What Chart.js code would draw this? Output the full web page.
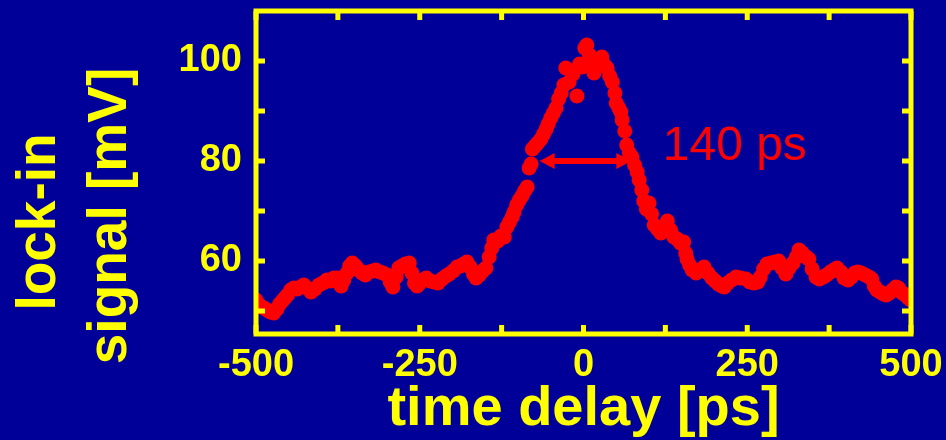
<!DOCTYPE html>
<html>
<head>
<meta charset="utf-8">
<script src="https://cdn.jsdelivr.net/npm/chart.js@4"></script>
<style>
  html, body { margin: 0; padding: 0; background: #000099; }
  #wrap { width: 946px; height: 440px; }
</style>
</head>
<body>
<div id="wrap"><canvas id="chart" width="946" height="440"></canvas></div>
<script>
// time delay [ps]
const delays = [
  -500, -496, -492, -488, -483, -478, -473, -468, -464, -460, -456, -452, -447, -442, -437, -432,
  -427, -422, -416, -410, -404, -398, -392, -386, -381, -376, -370, -366, -361, -357, -353, -348,
  -343, -338, -333, -328, -322, -317, -311, -306, -300, -295, -291, -286, -282, -277, -272, -266,
  -262, -258, -254, -250, -245, -240, -234, -228, -222, -216, -210, -205, -199, -193, -188, -183,
  -178, -173, -168, -164, -159, -154, -149, -144, -140, -137, -131, -126, -121, -117, -113, -109,
  -106, -102, -98, -94, -90, -86, -83, -80, -78, -74, -70, -65, -61, -57, -54, -50,
  -46, -42, -38, -34, -30, -27, -22, -16, -10, -6, -2, 2, 5, 9, 13, 16,
  20, 24, 28, 32, 36, 40, 44, 48, 50, 54, 57, 59, 63, 66, 70, 74,
  78, 82, 85, 89, 92, 96, 100, 104, 108, 113, 118, 123, 128, 133, 138, 143,
  148, 153, 156, 158, 162, 166, 172, 178, 184, 190, 196, 201, 206, 211, 215, 220,
  226, 233, 240, 248, 254, 260, 266, 270, 275, 280, 286, 292, 298, 303, 309, 314,
  320, 325, 329, 334, 340, 344, 349, 355, 360, 366, 371, 377, 382, 387, 393, 398,
  404, 409, 414, 419, 424, 430, 436, 440, 444, 448, 453, 458, 462, 467, 472, 477,
  481, 485, 489, 492, 496, 500
];
// lock-in signal [mV]
const signal = [
  52.2, 51.4, 50.8, 50.6, 50.2, 49.8, 49.6, 50.4, 51.4, 52.0, 52.6, 53.2, 54.2, 54.6, 54.4, 54.8,
  55.2, 54.6, 53.8, 54.4, 55.2, 55.6, 56.2, 56.0, 56.6, 56.6, 55.0, 56.2, 57.6, 59.0, 59.6, 59.0,
  58.2, 57.6, 57.2, 57.8, 58.0, 58.2, 57.8, 57.6, 57.2, 55.8, 54.8, 56.8, 58.6, 59.0, 59.4, 59.6,
  57.6, 55.6, 55.0, 55.6, 56.2, 56.6, 56.0, 55.8, 55.6, 56.4, 57.0, 57.4, 58.0, 58.8, 59.0, 59.4,
  59.8, 58.8, 57.4, 56.6, 57.2, 58.0, 58.6, 60.8, 62.6, 64.2, 64.0, 65.0, 64.8, 66.8, 67.8, 68.8,
  69.8, 71.2, 72.2, 73.0, 74.0, 74.8, 78.6, 79.4, 82.4, 83.0, 83.6, 84.4, 85.4, 86.4, 87.4, 88.6,
  89.6, 90.6, 92.4, 93.6, 95.2, 98.6, 95.8, 97.4, 93.0, 99.4, 98.8, 102.6, 103.2, 101.2, 100.0, 97.6,
  99.0, 100.0, 100.8, 99.2, 98.6, 97.0, 95.8, 93.6, 91.6, 90.6, 89.8, 88.2, 86.0, 83.2, 81.6, 80.8,
  79.2, 77.8, 76.2, 74.2, 72.0, 70.4, 71.6, 69.4, 67.2, 66.4, 65.6, 66.8, 68.0, 66.2, 64.8, 64.4,
  63.6, 63.8, 61.6, 60.4, 59.2, 58.2, 57.6, 58.2, 58.8, 57.6, 56.6, 56.0, 55.4, 55.0, 54.8, 55.6,
  56.2, 56.8, 56.6, 56.4, 55.8, 55.6, 55.8, 56.8, 58.4, 59.4, 59.6, 59.8, 60.0, 58.6, 57.4, 58.6,
  59.6, 60.8, 62.2, 61.6, 60.8, 60.4, 58.4, 56.8, 56.4, 56.8, 57.2, 57.8, 58.2, 58.6, 57.8, 56.6,
  56.2, 56.8, 57.6, 57.8, 57.6, 57.2, 56.8, 56.4, 55.0, 54.2, 53.8, 53.4, 53.2, 53.6, 54.2, 54.8,
  54.6, 53.8, 53.4, 53.2, 52.6, 52.2
];

const xTicks = [-500, -250, 0, 250, 500];
const xMinorTicks = [-375, -125, 125, 375];
const yTicks = [60, 80, 100];
const yMinorTicks = [50, 70, 90];

// FWHM marker
const fwhmFrom = -67;
const fwhmTo = 73;
const fwhmLevel = 80;
const fwhmLabel = '140 ps';
const fwhmLabelAt = [121, 80.2];

const YELLOW = '#FFFF00';
const RED = '#FF0000';
const FONT = "'Liberation Sans', Arial, sans-serif";

// box + inward ticks, like the original plot
const frame = {
  id: 'frame',
  afterDatasetsDraw(chart) {
    const { ctx, chartArea: a, scales: { x, y } } = chart;
    ctx.save();

    // arrow with two heads
    const x1 = x.getPixelForValue(fwhmFrom);
    const x2 = x.getPixelForValue(fwhmTo);
    const ya = y.getPixelForValue(fwhmLevel);
    const head = 15, half = 8;
    ctx.strokeStyle = RED;
    ctx.fillStyle = RED;
    ctx.lineWidth = 6;
    ctx.beginPath();
    ctx.moveTo(x1 + head - 2, ya);
    ctx.lineTo(x2 - head + 2, ya);
    ctx.stroke();
    ctx.beginPath();
    ctx.moveTo(x1, ya);
    ctx.lineTo(x1 + head, ya - half);
    ctx.lineTo(x1 + head, ya + half);
    ctx.closePath();
    ctx.fill();
    ctx.beginPath();
    ctx.moveTo(x2, ya);
    ctx.lineTo(x2 - head, ya - half);
    ctx.lineTo(x2 - head, ya + half);
    ctx.closePath();
    ctx.fill();

    ctx.font = '48px ' + FONT;
    ctx.textAlign = 'left';
    ctx.textBaseline = 'alphabetic';
    ctx.fillText(fwhmLabel, x.getPixelForValue(fwhmLabelAt[0]), y.getPixelForValue(fwhmLabelAt[1]));

    // frame
    ctx.strokeStyle = YELLOW;
    ctx.lineWidth = 5;
    ctx.strokeRect(a.left, a.top, a.right - a.left, a.bottom - a.top);

    const tl = 9;
    ctx.beginPath();
    xTicks.concat(xMinorTicks).forEach(v => {
      const px = x.getPixelForValue(v);
      ctx.moveTo(px, a.bottom); ctx.lineTo(px, a.bottom - tl);
      ctx.moveTo(px, a.top); ctx.lineTo(px, a.top + tl);
    });
    yTicks.concat(yMinorTicks).forEach(v => {
      const py = y.getPixelForValue(v);
      ctx.moveTo(a.left, py); ctx.lineTo(a.left + tl, py);
      ctx.moveTo(a.right, py); ctx.lineTo(a.right - tl, py);
    });
    ctx.stroke();

    // y axis title, two lines, sits a bit lower than the plot centre
    ctx.fillStyle = YELLOW;
    ctx.font = 'bold 55px ' + FONT;
    ctx.textAlign = 'center';
    [['lock-in', 55, 222], ['signal [mV]', 126, 216]].forEach(([t, bx, cy]) => {
      ctx.save();
      ctx.translate(bx, cy);
      ctx.rotate(-Math.PI / 2);
      ctx.fillText(t, 0, 0);
      ctx.restore();
    });

    ctx.restore();
  }
};

new Chart(document.getElementById('chart'), {
  type: 'scatter',
  data: {
    datasets: [{
      data: delays.map((d, i) => ({ x: d, y: signal[i] })),
      backgroundColor: RED,
      borderWidth: 0,
      pointRadius: 7.5,
      pointHoverRadius: 7.5,
      clip: 0
    }]
  },
  options: {
    responsive: false,
    animation: false,
    events: [],
    layout: { padding: { top: 11, right: 35, left: 0, bottom: 0 } },
    plugins: { legend: { display: false }, tooltip: { enabled: false } },
    scales: {
      x: {
        type: 'linear',
        min: -500,
        max: 500,
        afterFit: s => { s.height = 106; s.paddingLeft = 0; s.paddingRight = 0; },
        afterBuildTicks: s => { s.ticks = xTicks.map(v => ({ value: v })); },
        grid: { display: false, drawTicks: false },
        border: { display: false },
        ticks: {
          color: YELLOW,
          font: { family: FONT, size: 38, weight: 'bold' },
          padding: 9,
          maxRotation: 0,
          autoSkip: false
        },
        title: {
          display: true,
          text: 'time delay [ps]',
          color: YELLOW,
          font: { family: FONT, size: 56, weight: 'bold', lineHeight: 1 },
          padding: { top: 0, bottom: 2 }
        }
      },
      y: {
        type: 'linear',
        min: 45.4,
        max: 110,
        afterFit: s => { s.width = 256; s.paddingTop = 0; s.paddingBottom = 0; },
        afterBuildTicks: s => { s.ticks = yTicks.map(v => ({ value: v })); },
        grid: { display: false, drawTicks: false },
        border: { display: false },
        ticks: {
          color: YELLOW,
          font: { family: FONT, size: 38, weight: 'bold' },
          padding: 14
        }
      }
    }
  },
  plugins: [frame]
});
</script>
</body>
</html>
